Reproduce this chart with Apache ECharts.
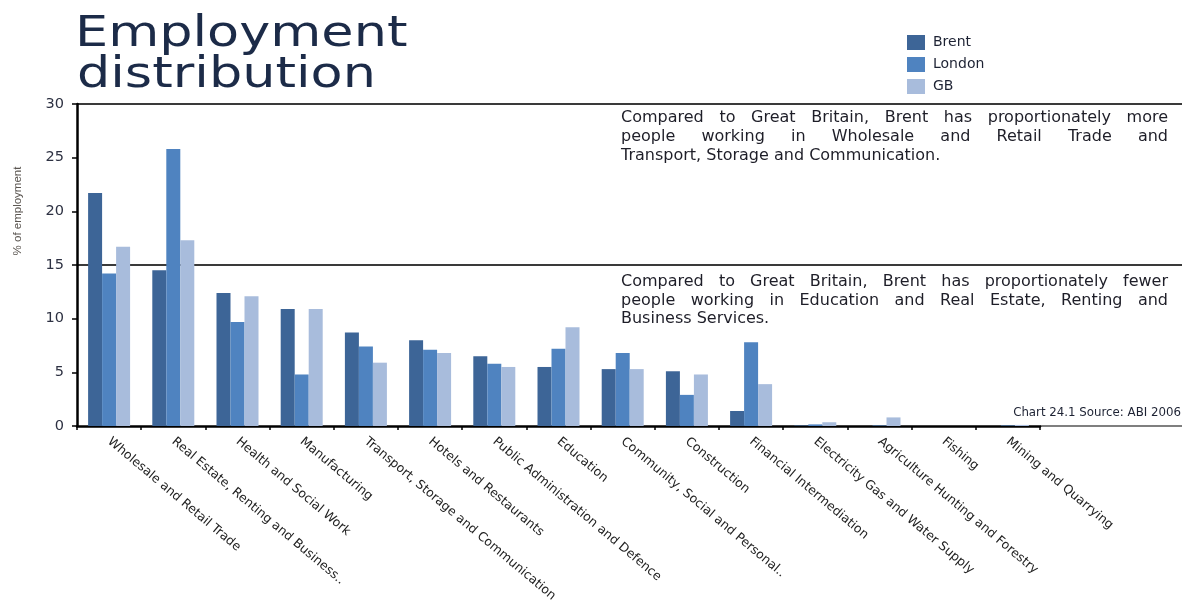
<!DOCTYPE html>
<html>
<head>
<meta charset="utf-8">
<title>Employment distribution</title>
<script src="https://cdn.jsdelivr.net/npm/echarts@6/dist/echarts.min.js"></script>
<style>
  html, body { margin: 0; padding: 0; background: #ffffff; }
  #chart { width: 1182px; height: 605px; }
</style>
</head>
<body>
<div id="chart"></div>
<script>
// Industry sectors, in the order shown on the axis
const categories = [
  'Wholesale and Retail Trade',
  'Real Estate, Renting and Business..',
  'Health and Social Work',
  'Manufacturing',
  'Transport, Storage and Communication',
  'Hotels and Restaurants',
  'Public Administration and Defence',
  'Education',
  'Community, Social and Personal..',
  'Construction',
  'Financial Intermediation',
  'Electricity Gas and Water Supply',
  'Agriculture Hunting and Forestry',
  'Fishing',
  'Mining and Quarrying'
];

// % of employment by sector
const brent  = [21.7, 14.5, 12.4, 10.9, 8.7, 8.0, 6.5, 5.5, 5.3, 5.1, 1.4, 0.05, 0,    0, 0];
const london = [14.2, 25.8,  9.7,  4.8, 7.4, 7.1, 5.8, 7.2, 6.8, 2.9, 7.8, 0.15, 0.05, 0, 0.05];
const gb     = [16.7, 17.3, 12.1, 10.9, 5.9, 6.8, 5.5, 9.2, 5.3, 4.8, 3.9, 0.35, 0.8,  0, 0.1];

const seriesNames = ['Brent', 'London', 'GB'];
const yTicks = [0, 5, 10, 15, 20, 25, 30];

const titleLines = ['Employment', 'distribution'];
const noteAbove = [
  'Compared to Great Britain, Brent has proportionately more',
  'people working in Wholesale and Retail Trade and',
  'Transport, Storage and Communication.'
];
const noteBelow = [
  'Compared to Great Britain, Brent has proportionately fewer',
  'people working in Education and Real Estate, Renting and',
  'Business Services.'
];
const sourceText = 'Chart 24.1 Source: ABI 2006';
const yAxisTitle = '% of employment';

// ---- styling ----
const COLORS = ['#3d6597', '#4f83c0', '#a8bcdc'];
const W = 1182, H = 605;
const GRID = { left: 77, top: 104, right: 142, bottom: 179 };
const FONT = 'DejaVu Sans';

const chart = echarts.init(document.getElementById('chart'), null, { renderer: 'canvas' });

const mkSeries = (name, data, i) => ({
  name, type: 'bar', data,
  barWidth: 14, barGap: '0%',
  itemStyle: { color: COLORS[i] },
  emphasis: { disabled: true }
});

chart.setOption({
  animation: false,
  backgroundColor: '#ffffff',
  color: COLORS,
  grid: { left: GRID.left, top: GRID.top, right: GRID.right, bottom: GRID.bottom, containLabel: false },
  legend: {
    data: seriesNames,
    orient: 'vertical',
    left: 907, top: 35, padding: 0,
    itemWidth: 18, itemHeight: 15, itemGap: 7,
    icon: 'rect',
    textStyle: { fontFamily: FONT, fontSize: 14, color: '#1d2233', padding: [0, 0, 0, 3] },
    selectedMode: false
  },
  xAxis: {
    type: 'category',
    data: categories,
    boundaryGap: true,
    axisLine: { show: true, lineStyle: { color: '#000', width: 2.5 } },
    axisTick: { show: true, length: 4, lineStyle: { color: '#000', width: 1.5 } },
    axisLabel: {
      interval: 0, rotate: -40, margin: 14,
      fontFamily: FONT, fontSize: 12.5, color: '#222'
    },
    splitLine: { show: false }
  },
  yAxis: {
    type: 'value',
    min: yTicks[0], max: yTicks[yTicks.length - 1], interval: 5,
    axisLine: { show: true, lineStyle: { color: '#000', width: 2.5 } },
    axisTick: { show: true, length: 5, lineStyle: { color: '#000', width: 1.5 } },
    axisLabel: { margin: 13, fontFamily: FONT, fontSize: 14.5, color: '#2d3142' },
    splitLine: { show: false }
  },
  series: [
    mkSeries(seriesNames[0], brent, 0),
    mkSeries(seriesNames[1], london, 1),
    mkSeries(seriesNames[2], gb, 2)
  ]
});

// ---- overlay graphics: title, rules, notes ----
const measureCtx = document.createElement('canvas').getContext('2d');
function textWidth(str, font) { measureCtx.font = font; return measureCtx.measureText(str).width; }

// Justified paragraph: every line but the last is spread across the full width
function paragraph(lines, x, yMid, width, lineH, size, color) {
  const font = size + 'px "' + FONT + '"';
  const els = [];
  lines.forEach((line, i) => {
    const y = yMid + i * lineH;
    const words = line.split(' ');
    if (i === lines.length - 1 || words.length < 2) {
      els.push({ type: 'text', x, y, silent: true,
        style: { text: line, font, fill: color, verticalAlign: 'middle', align: 'left' } });
      return;
    }
    const widths = words.map(w => textWidth(w, font));
    const gap = (width - widths.reduce((a, b) => a + b, 0)) / (words.length - 1);
    let cx = x;
    words.forEach((w, k) => {
      els.push({ type: 'text', x: cx, y, silent: true,
        style: { text: w, font, fill: color, verticalAlign: 'middle', align: 'left' } });
      cx += widths[k] + gap;
    });
  });
  return els;
}

const yTop = chart.convertToPixel({ yAxisIndex: 0 }, yTicks[yTicks.length - 1]);
const yMid = chart.convertToPixel({ yAxisIndex: 0 }, 15);
const yZero = chart.convertToPixel({ yAxisIndex: 0 }, 0);
const xEnd = W - GRID.right;

const titleFont = '43px "' + FONT + '"';
const graphics = [
  // title, drawn slightly widened
  { type: 'text', x: 75, y: 13, scaleX: 1.22, silent: true,
    style: { text: titleLines[0], font: titleFont, fill: '#1c2b48', verticalAlign: 'top' } },
  { type: 'text', x: 77, y: 54, scaleX: 1.22, silent: true,
    style: { text: titleLines[1], font: titleFont, fill: '#1c2b48', verticalAlign: 'top' } },
  // rules at 30 and 15, and the baseline run-out past the last category
  { type: 'line', silent: true, shape: { x1: GRID.left, y1: yTop, x2: W, y2: yTop },
    style: { stroke: '#3a3a3a', lineWidth: 2 } },
  { type: 'line', silent: true, shape: { x1: GRID.left, y1: yMid, x2: W, y2: yMid },
    style: { stroke: '#3a3a3a', lineWidth: 2 } },
  { type: 'line', silent: true, shape: { x1: xEnd, y1: yZero, x2: W, y2: yZero },
    style: { stroke: '#555', lineWidth: 1.5 } },
  // y axis title
  { type: 'text', x: 18, y: 211, rotation: Math.PI / 2, silent: true,
    style: { text: yAxisTitle, font: '11.5px "Liberation Sans"', fill: '#5a5550',
      align: 'center', verticalAlign: 'middle' } },
  // source note
  { type: 'text', x: 1181, y: 413, silent: true,
    style: { text: sourceText, font: '11.8px "' + FONT + '"', fill: '#1d2233',
      align: 'right', verticalAlign: 'middle' } }
]
  .concat(paragraph(noteAbove, 621, yTop + 14, 547, 19, 16, '#1e1e28'))
  .concat(paragraph(noteBelow, 621, yMid + 17, 547, 18.5, 16, '#1e1e28'));

chart.setOption({ graphic: { elements: graphics } });
</script>
</body>
</html>
